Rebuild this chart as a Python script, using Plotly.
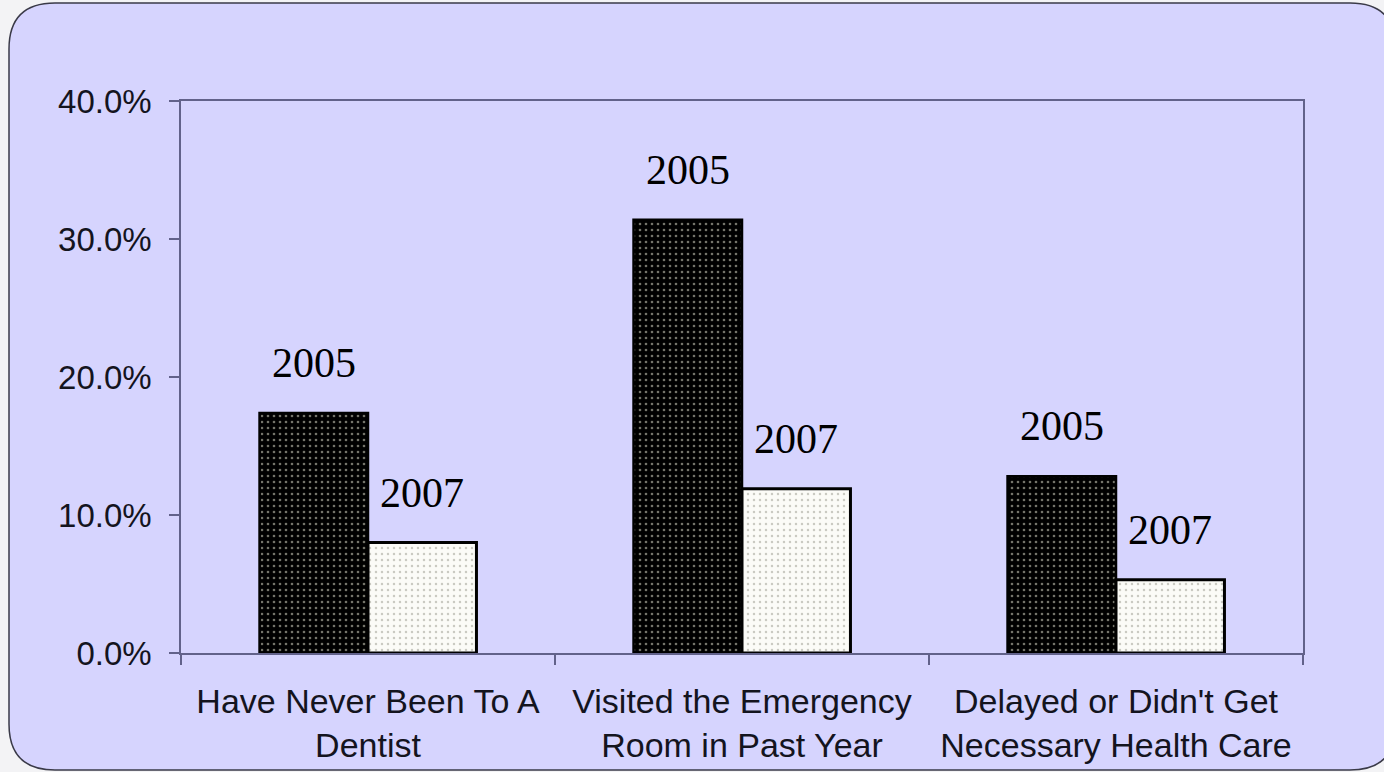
import plotly.graph_objects as go

categories = ["Have Never Been To A<br>Dentist",
              "Visited the Emergency<br>Room in Past Year",
              "Delayed or Didn't Get<br>Necessary Health Care"]
values_2005 = [0.174, 0.314, 0.128]
values_2007 = [0.080, 0.119, 0.053]
series_names = ["2005", "2007"]
y_ticks = [0.0, 0.1, 0.2, 0.3, 0.4]

W, H = 1384, 772
L, R, T, B = 181, 1303, 101, 653

def px(x):
    return (x - L) / (R - L)

def py(y):
    return (B - y) / (B - T)

fig = go.Figure()
fig.add_trace(go.Bar(
    x=categories, y=values_2005, name=series_names[0],
    marker=dict(color="black", line=dict(color="black", width=2.5),
                pattern=dict(shape=".", fillmode="replace", bgcolor="black",
                             fgcolor="#74746a", size=6, solidity=0.15)),
))
fig.add_trace(go.Bar(
    x=categories, y=values_2007, name=series_names[1],
    marker=dict(color="white", line=dict(color="black", width=3),
                pattern=dict(shape=".", fillmode="replace", bgcolor="#fbfbf7",
                             fgcolor="#cacac2", size=6, solidity=0.13)),
))

# year labels above bars
for vals, name, shift in [(values_2005, series_names[0], -54), (values_2007, series_names[1], 54)]:
    for c, v in zip(categories, vals):
        fig.add_annotation(x=c, y=v, text=name, showarrow=False,
                           xshift=shift, yshift=50, yanchor="middle",
                           font=dict(family="Liberation Serif, Times New Roman, serif",
                                     size=42, color="black"))

# rounded panel
x0, x1, y0, y1, r = 9, 1396, 3, 770, 46
path = (f"M {px(x0+r)},{py(y0)} L {px(x1-r)},{py(y0)} "
        f"Q {px(x1)},{py(y0)} {px(x1)},{py(y0+r)} "
        f"L {px(x1)},{py(y1-r)} Q {px(x1)},{py(y1)} {px(x1-r)},{py(y1)} "
        f"L {px(x0+r)},{py(y1)} Q {px(x0)},{py(y1)} {px(x0)},{py(y1-r)} "
        f"L {px(x0)},{py(y0+r)} Q {px(x0)},{py(y0)} {px(x0+r)},{py(y0)} Z")
fig.add_shape(type="path", path=path, xref="paper", yref="paper", layer="below",
              fillcolor="#d6d4fe", line=dict(color="#3a3a48", width=1.5))

axis_color = "#62628a"
fig.update_layout(
    width=W, height=H,
    margin=dict(l=L, r=W - R, t=T, b=H - B, pad=0, autoexpand=False),
    paper_bgcolor="#f3f3f5",
    plot_bgcolor="rgba(0,0,0,0)",
    barmode="group", bargap=0.42, bargroupgap=0,
    showlegend=False,
    font=dict(family="Liberation Sans, Arial, sans-serif", size=33, color="#14141e"),
)
fig.update_xaxes(showline=True, linecolor=axis_color, linewidth=1.5, mirror=True,
                 ticks="outside", ticklen=10, tickcolor=axis_color, tickwidth=1.5,
                 tickson="boundaries", showgrid=False, ticklabelstandoff=17,
                 automargin=False, tickfont=dict(size=34, color="#14141e"))
fig.update_yaxes(range=[0, 0.4], tickvals=y_ticks, tickformat=".1%",
                 showline=True, linecolor=axis_color, linewidth=1.5, mirror=True,
                 ticks="outside", ticklen=10, tickcolor=axis_color, tickwidth=1.5,
                 showgrid=False, zeroline=False, ticklabelstandoff=11,
                 automargin=False, tickfont=dict(size=33, color="#14141e"))

fig.write_html("out.html", config={"displayModeBar": False},
               post_script="document.body.style.margin='0';document.body.style.overflow='hidden';")
